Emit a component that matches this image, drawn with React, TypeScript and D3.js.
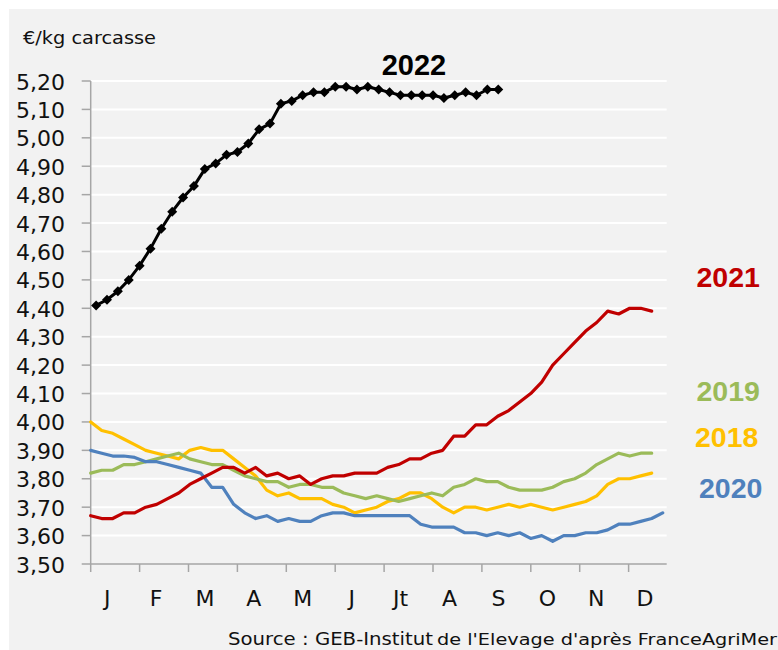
import React from 'react';
import * as d3 from 'd3';

const width = 778;
const height = 650;
// plot area (px)
const plot = { left: 90.7, right: 666.7, top: 81, bottom: 564 };

const yellow = '#ffc000';
const green = '#9bbb59';
const blue = '#4f81bd';
const red = '#c00000';
const axisGrey = '#a6a6a6';

const months = ['J', 'F', 'M', 'A', 'M', 'J', 'Jt', 'A', 'S', 'O', 'N', 'D'];
const weeks = d3.range(1, 54);
const yTicks = d3.range(35, 53).map(d => d / 10);

// €/kg carcasse, weekly values
const v2018 = [4.00, 3.97, 3.96, 3.94, 3.92, 3.90, 3.89, 3.88, 3.87, 3.90, 3.91, 3.90, 3.90, 3.87, 3.84, 3.81, 3.76, 3.74, 3.75, 3.73, 3.73, 3.73, 3.71, 3.70, 3.68, 3.69, 3.70, 3.72, 3.73,
  3.75, 3.75, 3.73, 3.70, 3.68, 3.70, 3.70, 3.69, 3.70, 3.71, 3.70, 3.71, 3.70, 3.69, 3.70, 3.71, 3.72, 3.74, 3.78, 3.80, 3.80, 3.81, 3.82];
const v2019 = [3.82, 3.83, 3.83, 3.85, 3.85, 3.86, 3.87, 3.88, 3.89, 3.87, 3.86, 3.85, 3.85, 3.83, 3.81, 3.80, 3.79, 3.79, 3.77, 3.78, 3.78, 3.77, 3.77, 3.75, 3.74, 3.73, 3.74, 3.73, 3.72,
  3.73, 3.74, 3.75, 3.74, 3.77, 3.78, 3.80, 3.79, 3.79, 3.77, 3.76, 3.76, 3.76, 3.77, 3.79, 3.80, 3.82, 3.85, 3.87, 3.89, 3.88, 3.89, 3.89];
const v2020 = [3.90, 3.89, 3.88, 3.88, 3.875, 3.86, 3.86, 3.85, 3.84, 3.83, 3.82, 3.77, 3.77, 3.71, 3.68, 3.66, 3.67, 3.65, 3.66, 3.65, 3.65, 3.67, 3.68, 3.68, 3.67, 3.67, 3.67, 3.67, 3.67,
  3.67, 3.64, 3.63, 3.63, 3.63, 3.61, 3.61, 3.60, 3.61, 3.60, 3.61, 3.59, 3.60, 3.58, 3.60, 3.60, 3.61, 3.61, 3.62, 3.64, 3.64, 3.65, 3.66, 3.68];
const v2021 = [3.67, 3.66, 3.66, 3.68, 3.68, 3.70, 3.71, 3.73, 3.75, 3.78, 3.80, 3.82, 3.84, 3.84, 3.82, 3.84, 3.81, 3.82, 3.80, 3.81, 3.78, 3.80, 3.81, 3.81, 3.82, 3.82, 3.82,
  3.84, 3.85, 3.87, 3.87, 3.89, 3.90, 3.95, 3.95, 3.99, 3.99, 4.02, 4.04, 4.07, 4.10, 4.14, 4.20, 4.24, 4.28, 4.32, 4.35, 4.39, 4.38, 4.40, 4.40, 4.39];
const v2022 = [4.41, 4.43, 4.46, 4.50, 4.55, 4.61, 4.68, 4.74, 4.79, 4.83, 4.89, 4.91, 4.94, 4.95, 4.98, 5.03, 5.05, 5.12, 5.13,
  5.15, 5.16, 5.16, 5.18, 5.18, 5.17, 5.18, 5.17, 5.16, 5.15, 5.15, 5.15, 5.15, 5.14, 5.15, 5.16, 5.15, 5.17, 5.17];

const fmt = d3.formatLocale({ decimal: ',', thousands: ' ', grouping: [3], currency: ['', '€'] }).format('.2f');

const font = '"DejaVu Sans", sans-serif';
const boldFont = '"Liberation Sans", Arial, sans-serif';

export default function App() {
  const yScale = d3.scaleLinear().domain([3.5, 5.2]).range([plot.bottom, plot.top]);
  // older years sit on the tick marks, 2022 in the middle of the weeks
  const xScale = d3.scalePoint<number>().domain(weeks).range([plot.left, plot.right - 4]);
  const xBand = d3.scaleBand<number>().domain(weeks).range([plot.left, plot.right]);
  const x22 = (w: number) => (xBand(w) as number) + xBand.bandwidth() / 2;
  const monthX = d3.scaleLinear().domain([0, 11]).range([plot.left, plot.left + 11 * 48.9]);

  const line = d3.line<number>()
    .x((d, i) => xScale(weeks[i]) as number)
    .y(d => yScale(d));
  const line22 = d3.line<number>()
    .x((d, i) => x22(weeks[i]))
    .y(d => yScale(d));
  const diamond = d3.symbol(d3.symbolSquare, 50)();

  const series = [
    { key: '2018', values: v2018, color: yellow },
    { key: '2019', values: v2019, color: green },
    { key: '2020', values: v2020, color: blue },
    { key: '2021', values: v2021, color: red },
  ];

  return (
    <svg width={width} height={height} style={{ position: 'absolute', left: 0, top: 0 }}>
      <rect width={width} height={height} fill="#fff" />
      <rect x={9} y={9} width={width - 9} height={height - 9} fill="#f2f2f2" />

      {/* gridlines */}
      {yTicks.filter(t => t > 3.5).map(t => (
        <line key={t} x1={plot.left} x2={plot.right} y1={yScale(t)} y2={yScale(t)} stroke="#fff" strokeWidth={2} />
      ))}

      {/* y axis */}
      <line x1={plot.left} x2={plot.left} y1={plot.top} y2={plot.bottom} stroke={axisGrey} strokeWidth={1.5} />
      {yTicks.map(t => (
        <g key={t}>
          <line x1={plot.left - 9} x2={plot.left} y1={yScale(t)} y2={yScale(t)} stroke={axisGrey} strokeWidth={1.5} />
          <text x={65} y={yScale(t) + 8.5} textAnchor="end" fontFamily={font} fontSize={22} fill="#111">{fmt(t)}</text>
        </g>
      ))}

      {/* x axis */}
      <line x1={plot.left} x2={plot.right} y1={plot.bottom} y2={plot.bottom} stroke={axisGrey} strokeWidth={1.5} />
      {months.map((m, i) => (
        <g key={i}>
          <line x1={monthX(i)} x2={monthX(i)} y1={plot.bottom} y2={plot.bottom + 8} stroke={axisGrey} strokeWidth={1.5} />
          <text x={monthX(i) + 16.5} y={606} textAnchor="middle" fontFamily={font} fontSize={22} fill="#111">{m}</text>
        </g>
      ))}

      {/* lines */}
      {series.map(s => (
        <path key={s.key} d={line(s.values) || ''} fill="none" stroke={s.color} strokeWidth={3.2} strokeLinejoin="round" strokeLinecap="round" />
      ))}
      <path d={line22(v2022) || ''} fill="none" stroke="#000" strokeWidth={3} strokeLinejoin="round" />
      {v2022.map((d, i) => (
        <path key={i} d={diamond || ''} transform={`translate(${x22(weeks[i])},${yScale(d)}) rotate(45)`} fill="#000" />
      ))}

      {/* labels */}
      <text x={23} y={44} fontFamily={font} fontSize={17.5} fill="#111" textLength={133} lengthAdjust="spacingAndGlyphs">€/kg carcasse</text>
      <text x={414} y={75} textAnchor="middle" fontFamily={boldFont} fontWeight="bold" fontSize={29} fill="#000">2022</text>
      <text x={696.5} y={287} fontFamily={boldFont} fontWeight="bold" fontSize={28.5} fill={red}>2021</text>
      <text x={696.5} y={400.5} fontFamily={boldFont} fontWeight="bold" fontSize={28.5} fill={green}>2019</text>
      <text x={695} y={446.5} fontFamily={boldFont} fontWeight="bold" fontSize={28.5} fill={yellow}>2018</text>
      <text x={699} y={498} fontFamily={boldFont} fontWeight="bold" fontSize={28.5} fill={blue}>2020</text>

      <text x={228} y={645} fontFamily={font} fontSize={17.5} fill="#111" textLength={205} lengthAdjust="spacingAndGlyphs">Source : GEB-Institut</text>
      <text x={437} y={645} fontFamily={font} fontSize={15} fill="#111" textLength={340} lengthAdjust="spacingAndGlyphs">de l'Elevage d'après FranceAgriMer</text>
    </svg>
  );
}
